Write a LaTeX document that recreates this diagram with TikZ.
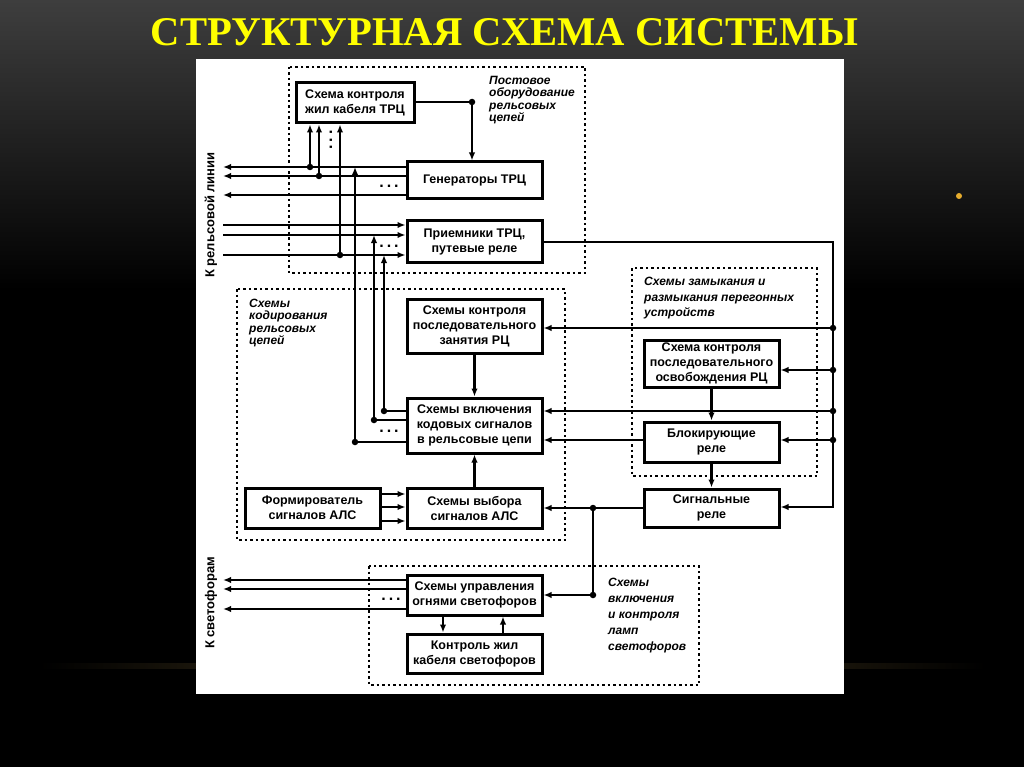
\documentclass[tikz,border=0pt]{standalone}
\usepackage{fontspec}
\setmainfont{Liberation Sans}
\newfontfamily\titlefont{Liberation Serif}
\usetikzlibrary{arrows.meta}

\definecolor{fonverh}{RGB}{62,62,62}
\definecolor{zoloto}{RGB}{78,64,34}
\definecolor{zhelty}{RGB}{255,255,0}
\definecolor{tochka}{RGB}{230,172,45}

\tikzset{
  blok/.style={draw,line width=3pt,minimum width=135pt,align=center,inner sep=0pt,
    font=\bfseries\fontsize{12.5}{15}\selectfont},
  zona/.style={draw,line width=2.5pt,dash pattern=on 2.5pt off 3pt},
  zapis/.style={align=left,anchor=north west,inner sep=0pt,
    font=\bfseries\itshape\fontsize{12}{12.3}\selectfont},
  bokovaya/.style={rotate=90,inner sep=0pt,font=\bfseries\fontsize{13}{13}\selectfont},
  sv/.style={line width=2.5pt,-{Latex[length=8pt,width=6.5pt]}},
  ln/.style={line width=2.5pt},
  uzel/.style={circle,fill,inner sep=0pt,minimum size=6.5pt},
  mnogo/.style={inner sep=0pt,font=\bfseries\fontsize{16}{16}\selectfont},
  zagolovok/.style={inner sep=0pt,text=zhelty,font=\titlefont\bfseries}
}

\begin{document}
\begin{tikzpicture}[x=1pt,y=-1pt]
\useasboundingbox (0,0) rectangle (1024,767);
% фон слайда
\shade[top color=fonverh,bottom color=black] (0,0) rectangle (1024,290);
\fill[black] (0,289) rectangle (1024,767);
\shade[left color=black,right color=black,middle color=zoloto] (40,663) rectangle (985,668);
\fill[white] (196,59) rectangle (844,694);
\fill[tochka] (959,196) circle (3);
\node[zagolovok] (zag) at (504.5,32.5) {\resizebox{707pt}{27pt}{СТРУКТУРНАЯ СХЕМА СИСТЕМЫ}};

% зоны
\draw[zona] (289,67) rectangle (585,273);
\draw[zona] (237,289) rectangle (565,540);
\draw[zona] (632,268) rectangle (817,476);
\draw[zona] (369,566) rectangle (699,685);
\node[zapis] (z1) at (489,76) {Постовое\\оборудование\\рельсовых\\цепей};
\node[zapis] (z2) at (249,299) {Схемы\\кодирования\\рельсовых\\цепей};
\node[zapis,font=\bfseries\itshape\fontsize{12}{15.5}\selectfont] (z3) at (644,277) {Схемы замыкания и\\размыкания перегонных\\устройств};
\node[zapis,font=\bfseries\itshape\fontsize{12}{16}\selectfont] (z4) at (608,578) {Схемы\\включения\\и контроля\\ламп\\светофоров};

% блоки
\node[blok,minimum width=118pt,minimum height=40pt] (kab) at (355,103) {Схема контроля\\жил кабеля ТРЦ};
\node[blok,minimum height=37pt] (gen) at (474.5,180.5) {Генераторы ТРЦ};
\node[blok,minimum height=41pt] (prm) at (474.5,241.5) {Приемники ТРЦ,\\путевые реле};
\node[blok,minimum height=54pt] (zan) at (474.5,326) {Схемы контроля\\последовательного\\занятия РЦ};
\node[blok,minimum height=55pt] (vkl) at (474.5,425.5) {Схемы включения\\кодовых сигналов\\в рельсовые цепи};
\node[blok,minimum height=40pt] (frm) at (312.5,508) {Формирователь\\сигналов АЛС};
\node[blok,minimum height=40pt] (vyb) at (474.5,508) {Схемы выбора\\сигналов АЛС};
\node[blok,minimum height=47pt] (osv) at (711.5,363.5) {Схема контроля\\последовательного\\освобождения РЦ};
\node[blok,minimum height=40pt] (blk) at (711.5,442) {Блокирующие\\реле};
\node[blok,minimum height=38pt] (sig) at (711.5,508) {Сигнальные\\реле};
\node[blok,minimum height=40pt] (upr) at (474.5,595) {Схемы управления\\огнями светофоров};
\node[blok,minimum height=39pt] (kzh) at (474.5,653.5) {Контроль жил\\кабеля светофоров};

\node[bokovaya] (k_linia) at (211,215) {К рельсовой линии};
\node[bokovaya] (k_svet) at (211,603) {К светофорам};

% рельсовая линия
\node[uzel] (ug) at (472,102) {};
\draw[ln] (kab.east |- ug) -- (ug.center);
\draw[sv] (ug.center) -- (ug |- gen.north);
\foreach \n/\y in {1/167,2/176,3/195}{
  \coordinate (gv\n) at (223,\y);
  \draw[sv] (gen.west |- gv\n) -- (gv\n);
}
\foreach \n/\y in {1/225,2/235,3/255}{
  \coordinate (pv\n) at (223,\y);
  \draw[sv] (pv\n) -- (pv\n -| prm.west);
}
\node[uzel] (k1) at (310,167) {};
\node[uzel] (k2) at (319,176) {};
\node[uzel] (k3) at (340,255) {};
\foreach \k in {k1,k2,k3} \draw[sv] (\k.center) -- (\k |- kab.south);

\node[uzel] (v1) at (355,442) {};
\node[uzel] (v2) at (374,420) {};
\node[uzel] (v3) at (384,411) {};
\foreach \v in {v1,v2,v3} \draw[ln] (vkl.west |- \v) -- (\v.center);
\draw[sv] (v1.center) -- (v1 |- gv1);
\draw[sv] (v2.center) -- (v2 |- pv2);
\draw[sv] (v3.center) -- (v3 |- pv3);

\node[mnogo] (m1) at (389,186) {.\kern3pt.\kern3pt.};
\node[mnogo] (m2) at (389,246) {.\kern3pt.\kern3pt.};
\node[mnogo] (m3) at (389,431) {.\kern3pt.\kern3pt.};
\node[mnogo] (m4) at (391,599) {.\kern3pt.\kern3pt.};
\node[mnogo,rotate=90] (m5) at (331,140) {.\kern3pt.\kern3pt.};

% шина справа
\coordinate (sh1) at (833,242);
\coordinate (sh2) at (833,507);
\draw[sv] (prm.east |- sh1) -- (sh1) -- (sh2) -- (sh2 -| sig.east);
\foreach \n/\y/\b in {1/328/zan,2/370/osv,3/411/vkl,4/440/blk}{
  \node[uzel] (s\n) at (833,\y) {};
  \draw[sv] (s\n.center) -- (s\n -| \b.east);
}
\draw[sv] (blk.west |- s4) -- (vkl.east |- s4);
\draw[sv] (osv.south) -- (blk.north);
\draw[sv] (blk.south) -- (sig.north);
\draw[sv] (zan.south) -- (vkl.north);
\draw[sv] (vyb.north) -- (vkl.south);
\foreach \y in {494,507,521} \draw[sv] (frm.east |- 0,\y) -- (vyb.west |- 0,\y);

% светофоры
\node[uzel] (r1) at (593,508) {};
\node[uzel] (r2) at (593,595) {};
\draw[sv] (sig.west) -- (vyb.east);
\draw[ln] (r1.center) -- (r2.center);
\draw[sv] (r2.center) -- (upr.east);
\foreach \n/\y in {1/580,2/589,3/609}{
  \coordinate (sv\n) at (223,\y);
  \draw[sv] (upr.west |- sv\n) -- (sv\n);
}
\draw[sv] (upr.south -| 443,0) -- (kzh.north -| 443,0);
\draw[sv] (kzh.north -| 503,0) -- (upr.south -| 503,0);
\end{tikzpicture}
\end{document}
